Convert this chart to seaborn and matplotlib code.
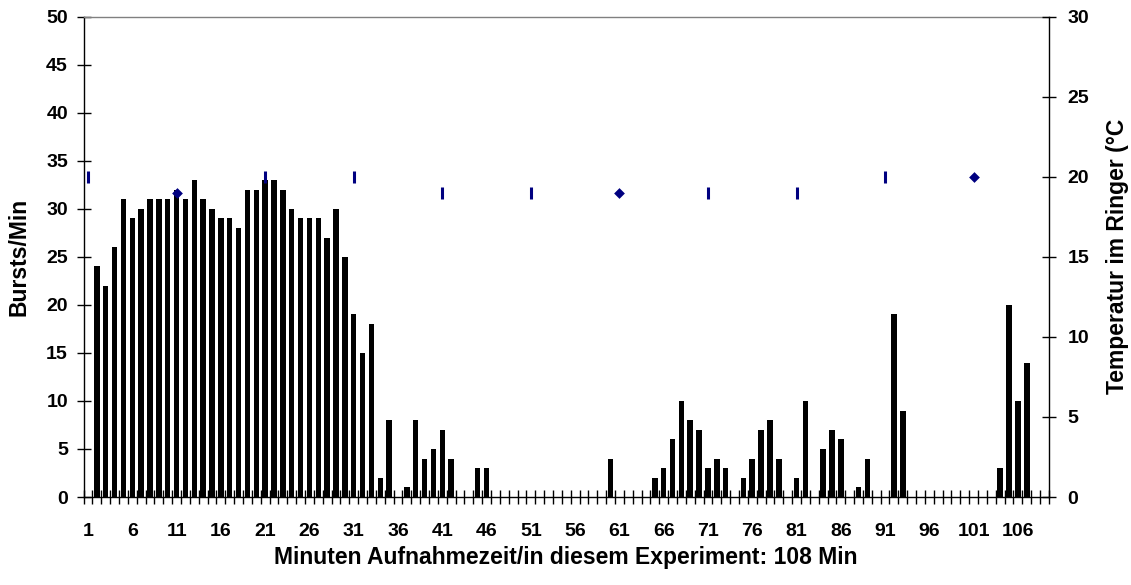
import numpy as np
import pandas as pd
import matplotlib
matplotlib.use("Agg")
import matplotlib.pyplot as plt
from matplotlib.ticker import FixedLocator, NullFormatter
import seaborn as sns

# Bursts per minute over the recording (minute 1 .. 109)
minutes = list(range(1, 110))
bursts = [
    0, 24, 22, 26, 31, 29, 30, 31, 31, 31,
    32, 31, 33, 31, 30, 29, 29, 28, 32, 32,
    33, 33, 32, 30, 29, 29, 29, 27, 30, 25,
    19, 15, 18, 2, 8, 0, 1, 8, 4, 5,
    7, 4, 0, 0, 3, 3, 0, 0, 0, 0,
    0, 0, 0, 0, 0, 0, 0, 0, 0, 4,
    0, 0, 0, 0, 2, 3, 6, 10, 8, 7,
    3, 4, 3, 0, 2, 4, 7, 8, 4, 0,
    2, 10, 0, 5, 7, 6, 0, 1, 4, 0,
    0, 19, 9, 0, 0, 0, 0, 0, 0, 0,
    0, 0, 0, 3, 20, 10, 14, 0, 0,
]

# Ringer temperature, read every ten minutes
temp_minutes = [1, 11, 21, 31, 41, 51, 61, 71, 81, 91, 101]
temp_values = [20, 19, 20, 20, 19, 19, 19, 19, 19, 20, 20]
diamond_minutes = [11, 61, 101]

x_labels = [str(m) for m in range(1, 107, 5)]

df = pd.DataFrame({"minute": minutes, "bursts": bursts})

sns.set_theme(style="white")
plt.rcParams["font.family"] = ["Liberation Sans", "DejaVu Sans"]
plt.rcParams["font.weight"] = "bold"
plt.rcParams["text.color"] = "black"
plt.rcParams["axes.labelcolor"] = "black"
plt.rcParams["xtick.color"] = "black"
plt.rcParams["ytick.color"] = "black"

FS = 14      # tick labels
FS_T = 16.5  # axis titles

fig = plt.figure(figsize=(11.31, 5.85), dpi=100)
W, H = 1131, 585
left, right, top, bottom = 83.6, 1048.9, 16.7, 497.0
ax = fig.add_axes([left / W, 1 - bottom / H, (right - left) / W, (bottom - top) / H])

sns.barplot(data=df, x="minute", y="bursts", color="black", width=0.62,
            saturation=1, linewidth=0, ax=ax, order=minutes)

n = len(minutes)
ax.set_xlim(-0.5, n - 0.5)
ax.set_ylim(0, 50)
ax.set_yticks(np.arange(0, 51, 5))
ax.set_yticklabels([str(v) for v in range(0, 51, 5)], fontsize=FS, fontweight="bold")

# category labels every 5 minutes, tick marks between categories
label_pos = [m - 1 for m in range(1, 107, 5)]
ax.set_xticks(label_pos)
ax.set_xticklabels(x_labels, fontsize=FS, fontweight="bold")
ax.tick_params(axis="x", which="major", length=0, pad=19, labelcolor="black")
ax.xaxis.set_minor_locator(FixedLocator(np.arange(-0.5, n, 1.0)))
ax.xaxis.set_minor_formatter(NullFormatter())
ax.tick_params(axis="x", which="minor", direction="inout", length=10.5,
               width=1.0, color="black", bottom=True)
ax.tick_params(axis="y", direction="inout", length=10.5, width=1.0,
               color="black", labelcolor="black", left=True, pad=6)

ax.set_xlabel("Minuten Aufnahmezeit/in diesem Experiment: 108 Min",
              fontsize=FS_T, fontweight="bold", labelpad=4, color="black")
ax.set_ylabel("Bursts/Min", fontsize=FS_T, fontweight="bold", labelpad=11, color="black")

for side in ["left", "bottom"]:
    ax.spines[side].set_color("black")
    ax.spines[side].set_linewidth(1.0)
ax.spines["top"].set_color("#808080")
ax.spines["top"].set_linewidth(1.0)
ax.spines["right"].set_visible(False)
ax.grid(False)

# secondary axis: temperature
ax2 = ax.twinx()
tdf = pd.DataFrame({"pos": [m - 1 for m in temp_minutes], "temp": temp_values,
                    "minute": temp_minutes})
dash = tdf[~tdf["minute"].isin(diamond_minutes)]
diam = tdf[tdf["minute"].isin(diamond_minutes)]
sns.scatterplot(data=dash, x="pos", y="temp", marker="|", s=70, color="#000080",
                linewidth=2.2, ax=ax2)
sns.scatterplot(data=diam, x="pos", y="temp", marker="D", s=30, color="#000080",
                linewidth=0, ax=ax2)
ax2.set_ylim(0, 30)
ax2.set_xlim(-0.5, n - 0.5)
ax2.set_yticks(np.arange(0, 31, 5))
ax2.set_yticklabels([str(v) for v in range(0, 31, 5)], fontsize=FS, fontweight="bold")
ax2.tick_params(axis="y", direction="inout", length=10.5, width=1.0,
                color="black", labelcolor="black", right=True, pad=8)
ax2.set_ylabel("Temperatur im Ringer (°C", fontsize=FS_T, fontweight="bold",
               labelpad=12, color="black")
ax2.set_xlabel("")
for side in ["left", "top", "bottom"]:
    ax2.spines[side].set_visible(False)
ax2.spines["right"].set_color("black")
ax2.spines["right"].set_linewidth(1.0)
ax2.grid(False)

fig.savefig("out.png", dpi=100)
